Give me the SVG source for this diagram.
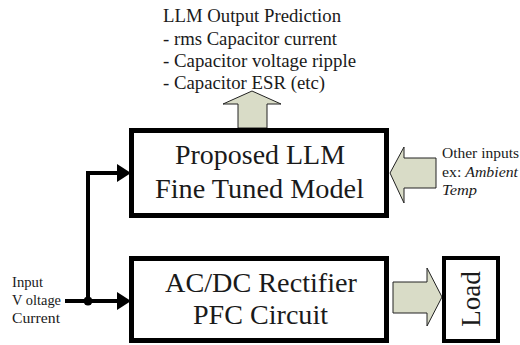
<svg xmlns="http://www.w3.org/2000/svg" width="520" height="345" viewBox="0 0 520 345">
<style>
.box{fill:#fff;stroke:#000;stroke-width:5}
.t{font-family:"Liberation Serif","Times New Roman",serif;fill:#1a1a1a}
.big{font-size:28px;text-anchor:middle}
.blk{fill:#d9dcc7;stroke:#222;stroke-width:1}
.wire{fill:none;stroke:#000;stroke-width:4}
</style>
<rect width="520" height="345" fill="#fff"/>
<g id="output-text">
<text class="t" x="163" y="22" font-size="18" textLength="178" lengthAdjust="spacingAndGlyphs">LLM Output Prediction</text>
<text class="t" x="163" y="45" font-size="18" textLength="174" lengthAdjust="spacingAndGlyphs">- rms Capacitor current</text>
<text class="t" x="163" y="67" font-size="18" textLength="193" lengthAdjust="spacingAndGlyphs">- Capacitor voltage ripple</text>
<text class="t" x="163" y="89" font-size="18" textLength="162" lengthAdjust="spacingAndGlyphs">- Capacitor ESR (etc)</text>
</g>
<g id="up-arrow"><polygon class="blk" points="238,128 238,104 223,104 252,91 281,104 267,104 267,128"/></g>
<g id="side-arrow"><polygon class="blk" points="436,158 404,158 404,147 390,173 404,203 404,188 436,188"/></g>
<g id="load-arrow"><polygon class="blk" points="393,282 427,282 427,268 442,297 427,326 427,313 393,313"/></g>
<g id="llm">
<rect class="box" x="131.5" y="130.5" width="255" height="85"/>
<text class="t big" x="260" y="164" textLength="170" lengthAdjust="spacingAndGlyphs">Proposed LLM</text>
<text class="t big" x="259.5" y="198" textLength="209" lengthAdjust="spacingAndGlyphs">Fine Tuned Model</text>
</g>
<g id="rectifier">
<rect class="box" x="131.5" y="258.5" width="255" height="82"/>
<text class="t big" x="261" y="292" textLength="192" lengthAdjust="spacingAndGlyphs">AC/DC Rectifier</text>
<text class="t big" x="260.5" y="324" textLength="135" lengthAdjust="spacingAndGlyphs">PFC Circuit</text>
</g>
<g id="load">
<rect x="444" y="258" width="54" height="83" fill="#fff" stroke="#000" stroke-width="4"/>
<text class="t" font-size="27" text-anchor="middle" transform="translate(480,299) rotate(-90)">Load</text>
</g>
<g id="input">
<text class="t" x="12" y="287" font-size="15" textLength="31" lengthAdjust="spacingAndGlyphs">Input</text>
<text class="t" x="12" y="305" font-size="15" textLength="49" lengthAdjust="spacingAndGlyphs">V oltage</text>
<text class="t" x="12" y="323" font-size="15" textLength="48" lengthAdjust="spacingAndGlyphs">Current</text>
</g>
<g id="other-inputs">
<text class="t" x="442" y="158" font-size="14" textLength="77" lengthAdjust="spacingAndGlyphs">Other inputs</text>
<text class="t" x="442" y="177" font-size="14" textLength="76" lengthAdjust="spacingAndGlyphs">ex: <tspan font-style="italic">Ambient</tspan></text>
<text class="t" x="442" y="195" font-size="14" font-style="italic" textLength="35" lengthAdjust="spacingAndGlyphs">Temp</text>
</g>
<g id="connectors">
<path class="wire" d="M88,301 V173 H119"/>
<polygon points="117,164 131,173 117,182" fill="#000"/>
<path class="wire" d="M65,301 H119"/>
<polygon points="117,292 131,301 117,310" fill="#000"/>
<circle cx="88" cy="301" r="4.5" fill="#000"/>
</g>
</svg>
